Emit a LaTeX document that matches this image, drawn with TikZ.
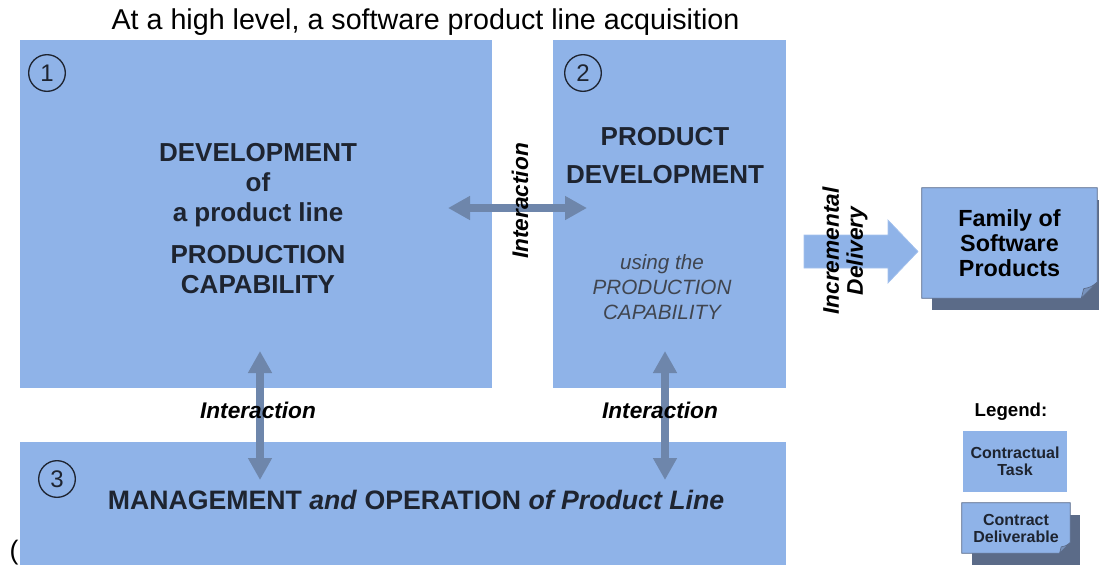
\documentclass[tikz,border=0pt]{standalone}
\usepackage{fontspec}
\setmainfont{Liberation Sans}
\usetikzlibrary{arrows.meta,backgrounds}
\definecolor{boxblue}{HTML}{8FB3E8}
\definecolor{arrowgray}{HTML}{6E86AB}
\definecolor{shadowgray}{HTML}{5B6B88}
\definecolor{inkdark}{HTML}{1E2430}
% box with shadow and folded corner, drawn round a named node
\newcommand{\foldbox}[2]{%
\fill[shadowgray] ([shift={(7.5pt,-9pt)}]#1.north west) rectangle ([shift={(7.5pt,-9pt)}]#1.south east);
\filldraw[fill=boxblue,draw=shadowgray,line width=0.6pt] (#1.north west) -- (#1.north east) -- ([yshift=#2]#1.south east) -- ([xshift=-#2]#1.south east) -- (#1.south west) -- cycle;
\filldraw[fill=boxblue!55!shadowgray,draw=shadowgray,line width=0.5pt] ([yshift=#2]#1.south east) .. controls ([shift={(-0.4*#2,0.7*#2)}]#1.south east) .. ([shift={(-0.85*#2,0.6*#2)}]#1.south east) -- ([xshift=-#2]#1.south east) -- cycle;}
\begin{document}
\begin{tikzpicture}[x=0.75pt,y=-0.75pt,
task/.style={fill=boxblue,inner sep=0pt},
deliv/.style={inner sep=0pt,align=center,text=black},
num/.style={circle,draw=inkdark,line width=1pt,minimum size=27.5pt,inner sep=0pt,text=inkdark,font=\fontsize{18}{18}\selectfont},
big/.style={inner sep=0pt,align=center,text=inkdark,font=\bfseries\fontsize{19.5}{22.5}\selectfont},
note/.style={inner sep=0pt,align=center,text=inkdark!85,font=\itshape\fontsize{15.5}{18.75}\selectfont},
inter/.style={inner sep=0pt,align=center,text=black,font=\bfseries\itshape\fontsize{17}{18}\selectfont},
twoway/.style={{Triangle[width=17pt,length=16.5pt]}-{Triangle[width=17pt,length=16.5pt]},draw=arrowgray,line width=6pt}]
\useasboundingbox (0,0) rectangle (1099,569);
\node[font=\fontsize{21.5}{24}\selectfont] (title) at (425.5,22) {At a high level, a software product line acquisition};
\node[font=\fontsize{20}{24}\selectfont] (paren) at (14,553) {(};
% the three contractual tasks
\node[task,minimum width=354pt,minimum height=261pt] (dev) at (256,214) {};
\node[task,minimum width=174.75pt,minimum height=261pt] (prod) at (669.5,214) {};
\node[task,minimum width=574.5pt,minimum height=92.25pt] (mgmt) at (403,503.5) {};
\node[num] (n1) at (47,73) {1};
\node[num] (n2) at (583,73) {2};
\node[num] (n3) at (57,479) {3};
\node[big] (devtext) at (258,219) {DEVELOPMENT\\of\\a product line\\[9pt]PRODUCTION\\CAPABILITY};
\node[big,font=\bfseries\fontsize{19.5}{28.5}\selectfont] (prodtext) at (665,156) {PRODUCT\\DEVELOPMENT};
\node[note] (usetext) at (662,287) {using the\\PRODUCTION\\CAPABILITY};
\node[big,font=\bfseries\fontsize{20}{24}\selectfont] (mgmttext) at (416,500) {MANAGEMENT \textit{and} OPERATION \textit{of Product Line}};
% interactions
\coordinate (H1) at (448,208);
\coordinate (H2) at (587,208);
\coordinate (L1) at (260,351);
\coordinate (L2) at (260,480);
\coordinate (R1) at (665,351);
\coordinate (R2) at (665,480);
\draw[twoway] (H1) -- (H2);
\draw[twoway] (L1) -- (L2);
\draw[twoway] (R1) -- (R2);
\node[inter,rotate=90] (ih) at (520,201) {Interaction};
\node[inter] (il) at (258,410) {Interaction};
\node[inter] (ir) at (660,410) {Interaction};
% delivery to the family of products
\node[deliv,minimum width=131.25pt,minimum height=82.5pt,font=\bfseries\fontsize{17.5}{19}\selectfont] (fam) at (1009.5,243) {Family of\\Software\\Products};
\fill[boxblue,draw=boxblue!80!white,line width=0.5pt] (804,235) -- (888,235) -- (888,220) -- (918,251.5) -- (888,283) -- (888,268) -- (804,268) -- cycle;
\node[inter,rotate=90] (incr) at (845,251) {Incremental\\Delivery};
% legend
\node[font=\bfseries\fontsize{14}{16}\selectfont] (legend) at (1011,412) {Legend:};
\node[task,minimum width=78pt,minimum height=45.75pt,align=center,text=inkdark,font=\bfseries\fontsize{12}{12.75}\selectfont] (legtask) at (1015,461.5) {Contractual\\Task};
\node[deliv,minimum width=81pt,minimum height=37.5pt,text=inkdark,font=\bfseries\fontsize{12}{12.75}\selectfont] (legdeliv) at (1016,528) {Contract\\Deliverable};
\begin{scope}[on background layer]
\foldbox{fam}{12pt}
\foldbox{legdeliv}{8pt}
\end{scope}
\end{tikzpicture}
\end{document}
